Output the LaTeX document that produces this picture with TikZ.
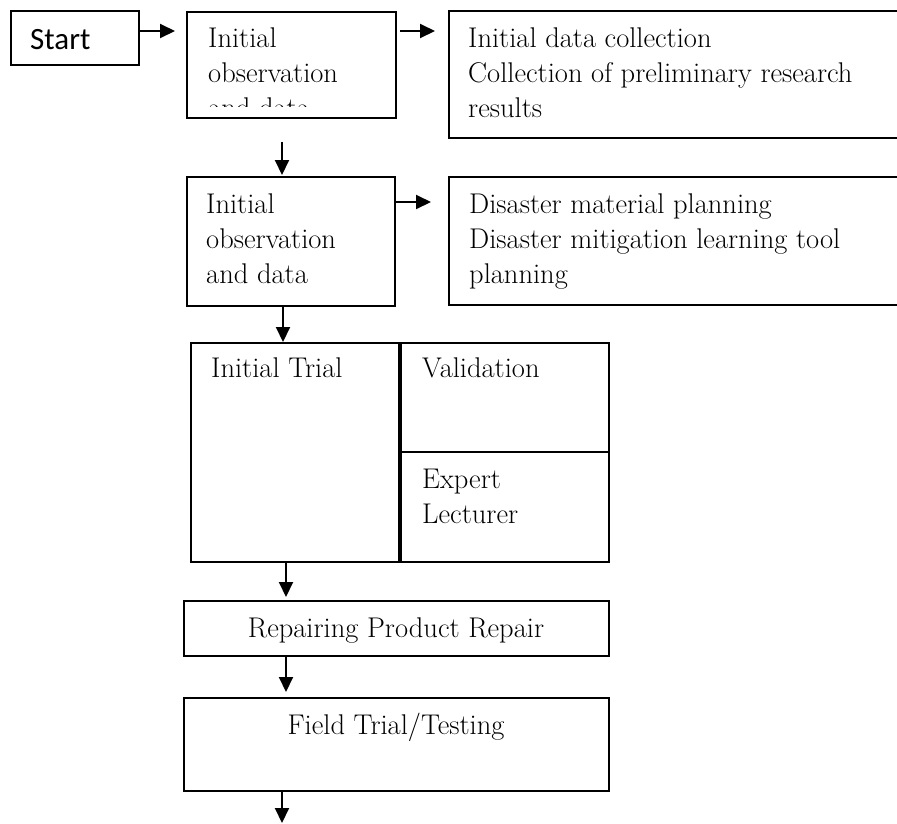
\documentclass[tikz,border=0pt]{standalone}
\usepackage{fontspec}
\newfontfamily\startfont{Carlito}
\usetikzlibrary{arrows.meta}

\begin{document}
\begin{tikzpicture}[x=1pt,y=-1pt,
        box/.style={draw, line width=2pt, inner sep=0pt, anchor=north west},
        txt/.style={inner sep=0pt, align=left, anchor=base west, font=\fontsize{28.5}{35}\selectfont},
        arr/.style={line width=2pt, -{Triangle[length=15pt,width=14pt]}}]
    \useasboundingbox (0,0) rectangle (897,823);
    \clip (0,0) rectangle (897,823);
    \node[box, minimum width=128, minimum height=54] (start) at (10,10) {};
    \node[box, minimum width=209, minimum height=106] (obs1) at (186,11) {};
    \node[box, minimum width=460, minimum height=127] (collect) at (448,10) {};
    \node[box, minimum width=208, minimum height=129] (obs2) at (186,176) {};
    \node[box, minimum width=460, minimum height=128] (plan) at (448,176) {};
    \node[box, minimum width=208, minimum height=219] (trial) at (190,342) {};
    \node[box, minimum width=208, minimum height=109] (valid) at (400,342) {};
    \node[box, minimum width=208, minimum height=110] (expert) at (400,451) {};
    \node[box, minimum width=425, minimum height=55] (repair) at (183,600) {};
    \node[box, minimum width=425, minimum height=93] (field) at (183,697) {};
    \coordinate (end) at (282,823);

    % multi-line texts sit on the baseline of their last line
    \node[txt, font=\startfont\fontsize{31}{36}\selectfont] (t-start) at (30,49) {Start};
    \begin{scope}
        \clip (186,11) rectangle (395,106);
        \node[txt] (t-obs1) at (208,117) {Initial\\observation\\and data};
    \end{scope}
    \node[txt] (t-collect) at (468,117) {Initial data collection\\Collection of preliminary research\\results};
    \node[txt] (t-obs2) at (206,283) {Initial\\observation\\and data};
    \node[txt] (t-plan) at (469,283) {Disaster material planning\\Disaster mitigation learning tool\\planning};
    \node[txt] (t-trial) at (211,377) {Initial Trial};
    \node[txt] (t-valid) at (422,377) {Validation};
    \node[txt] (t-expert) at (422,523) {Expert\\Lecturer};
    \node[txt, anchor=base] (t-repair) at (396,637) {Repairing Product Repair};
    \node[txt, anchor=base] (t-field) at (396,734) {Field Trial/Testing};

    \draw[arr, shorten >=11pt] (start.east |- 0,31) -- (obs1.west |- 0,31);
    \draw[arr, shorten <=3pt, shorten >=13pt] (obs1.east |- 0,31) -- (collect.west |- 0,31);
    \draw[arr, shorten <=23pt, shorten >=1pt] (obs1.south -| 282,0) -- (obs2.north -| 282,0);
    \draw[arr, shorten >=17pt] (obs2.east |- 0,202) -- (plan.west |- 0,202);
    \draw[arr] (obs2.south -| 283,0) -- (trial.north -| 283,0);
    \draw[arr, shorten >=3pt] (trial.south -| 286,0) -- (repair.north -| 286,0);
    \draw[arr, shorten >=5pt] (repair.south -| 286,0) -- (field.north -| 286,0);
    \draw[arr] (field.south -| 282,0) -- (end);
\end{tikzpicture}
\end{document}
